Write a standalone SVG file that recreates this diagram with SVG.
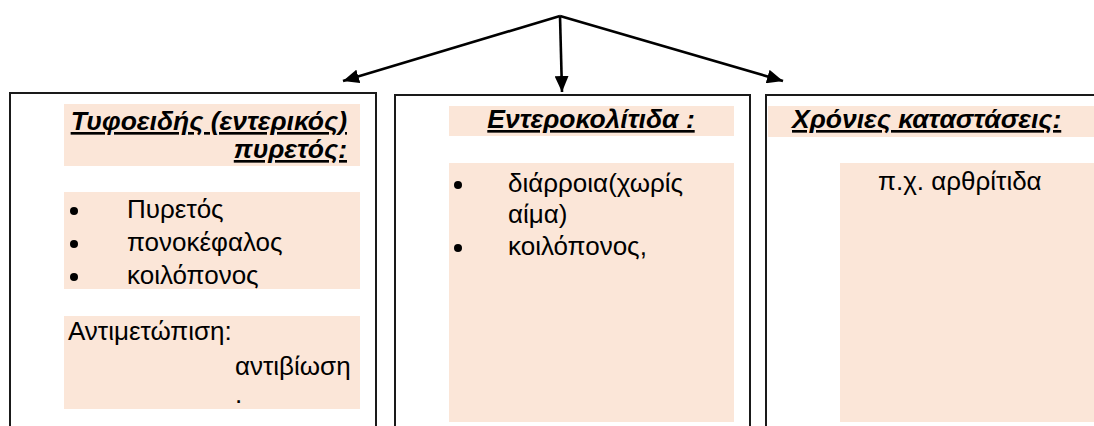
<svg xmlns="http://www.w3.org/2000/svg" width="1094" height="426" viewBox="0 0 1094 426">
  <defs>
    <marker id="arrow" viewBox="0 0 16 14" refX="16" refY="7" markerWidth="16" markerHeight="14" markerUnits="userSpaceOnUse" orient="auto">
      <path d="M0,0 L16,7 L0,14 Z" fill="#000"/>
    </marker>
    <style>
      .frame { fill: #fff; stroke: #1a1a1a; stroke-width: 2; }
      .shade { fill: #fbe6d8; }
      .title { font-family: "Liberation Sans", Arial, sans-serif; font-size: 26.5px; font-weight: bold; font-style: italic; text-decoration: underline; fill: #000; }
      .body { font-family: "Liberation Sans", Arial, sans-serif; font-size: 26px; fill: #000; }
      .link { fill: none; stroke: #000; stroke-width: 2.6; }
    </style>
  </defs>

  <rect width="1094" height="426" fill="#fff"/>

  <!-- connectors from the common origin down to the three columns -->
  <g id="connectors">
    <line class="link" x1="560" y1="16" x2="343" y2="81" marker-end="url(#arrow)"/>
    <line class="link" x1="560" y1="16" x2="562" y2="92" marker-end="url(#arrow)"/>
    <line class="link" x1="560" y1="16" x2="783" y2="81" marker-end="url(#arrow)"/>
  </g>

  <!-- typhoid fever column -->
  <g id="typhoid">
    <path class="frame" d="M10,430 L10,93 L376,93 L376,430"/>
    <rect class="shade" x="64" y="104" width="296" height="62"/>
    <text class="title" x="347" y="130" text-anchor="end">Τυφοειδής (εντερικός)</text>
    <text class="title" x="347" y="158" text-anchor="end">πυρετός:</text>
    <rect class="shade" x="64" y="192" width="296" height="97"/>
    <g class="body">
      <circle cx="74" cy="211" r="4"/>
      <text x="127" y="218">Πυρετός</text>
      <circle cx="74" cy="244" r="4"/>
      <text x="127" y="251">πονοκέφαλος</text>
      <circle cx="74" cy="277" r="4"/>
      <text x="127" y="284">κοιλόπονος</text>
    </g>
    <rect class="shade" x="64" y="316" width="296" height="93"/>
    <text class="body" x="68" y="340">Αντιμετώπιση:</text>
    <text class="body" x="235" y="375">αντιβίωση</text>
    <text class="body" x="235" y="403">.</text>
  </g>

  <!-- enterocolitis column -->
  <g id="enterocolitis">
    <path class="frame" d="M395,430 L395,95 L750,95 L750,430"/>
    <rect class="shade" x="449" y="106" width="285" height="30"/>
    <text class="title" x="591" y="128" text-anchor="middle">Εντεροκολίτιδα :</text>
    <rect class="shade" x="449" y="163" width="285" height="259"/>
    <g class="body">
      <circle cx="458" cy="185" r="4"/>
      <text x="508" y="192">διάρροια(χωρίς</text>
      <text x="508" y="223">αίμα)</text>
      <circle cx="458" cy="248" r="4"/>
      <text x="508" y="255">κοιλόπονος,</text>
    </g>
  </g>

  <!-- chronic conditions column -->
  <g id="chronic">
    <path class="frame" d="M766,430 L766,95 L1100,95"/>
    <rect class="shade" x="768" y="106" width="330" height="31"/>
    <text class="title" x="792" y="128">Χρόνιες καταστάσεις:</text>
    <rect class="shade" x="840" y="163" width="260" height="259"/>
    <text class="body" x="878" y="190">π.χ. αρθρίτιδα</text>
  </g>
</svg>
